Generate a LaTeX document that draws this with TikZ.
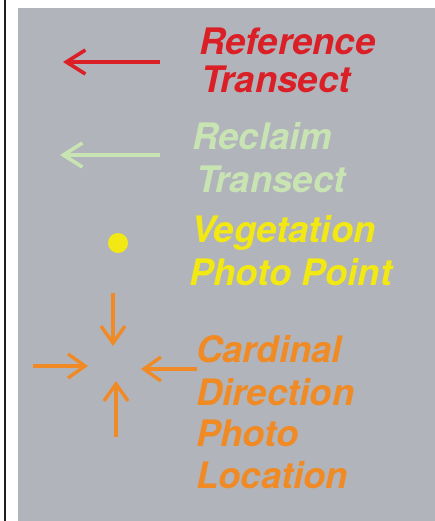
\documentclass[tikz,border=0pt]{standalone}
\usepackage{fontspec}
\setmainfont{TeX Gyre Heros}
\usetikzlibrary{arrows.meta}
\definecolor{bggray}{RGB}{178,180,187}
\definecolor{refred}{RGB}{218,32,38}
\definecolor{recgreen}{RGB}{200,228,178}
\definecolor{vegyellow}{RGB}{242,232,20}
\definecolor{cardorange}{RGB}{240,138,36}
\tikzset{
  lbl/.style={inner sep=0pt, anchor=base west, font=\fontsize{36.5}{42}\selectfont\bfseries\itshape},
  legarrow/.style={line width=3.6pt, -{Straight Barb[length=19pt,width=24pt]}},
  smallarrow/.style={line width=3.4pt, -{Straight Barb[length=17pt,width=24pt]}}
}
\begin{document}
\begin{tikzpicture}[x=1pt,y=-1pt]
\useasboundingbox (0,0) rectangle (435,521);
\fill[white] (0,0) rectangle (435,521);
\fill[black!88] (3.5,0) rectangle (6.2,521);
\fill[bggray] (18,8) rectangle (435,521);
% Reference transect
\coordinate (r1) at (160,62);
\coordinate (r2) at (63,62);
\draw[legarrow, refred] (r1) -- (r2);
\node[lbl, text=refred] (ref1) at (199,55) {Reference};
\node[lbl, text=refred] (ref2) at (201,93) {Transect};
% Reclaim transect
\coordinate (g1) at (160,155);
\coordinate (g2) at (60,155);
\draw[legarrow, recgreen] (g1) -- (g2);
\node[lbl, text=recgreen] (rec1) at (192,150) {Reclaim};
\node[lbl, text=recgreen] (rec2) at (196,193) {Transect};
% Vegetation photo point
\node[circle, fill=vegyellow, minimum size=20pt, inner sep=0pt] (dot) at (118,243) {};
\node[lbl, text=vegyellow] (veg1) at (191,242) {Vegetation};
\node[lbl, text=vegyellow] (veg2) at (189,285) {Photo Point};
% Cardinal direction photo location
\coordinate (d1) at (113,293);
\coordinate (d2) at (113,346);
\coordinate (e1) at (33,366);
\coordinate (e2) at (88,366);
\coordinate (w1) at (197,369);
\coordinate (w2) at (141,369);
\coordinate (u1) at (116,437);
\coordinate (u2) at (116,381);
\draw[smallarrow, cardorange] (d1) -- (d2);
\draw[smallarrow, cardorange] (e1) -- (e2);
\draw[smallarrow, cardorange] (w1) -- (w2);
\draw[smallarrow, cardorange] (u1) -- (u2);
\node[lbl, text=cardorange] (car1) at (196,362) {Cardinal};
\node[lbl, text=cardorange] (car2) at (196,405) {Direction};
\node[lbl, text=cardorange] (car3) at (196,446) {Photo};
\node[lbl, text=cardorange] (car4) at (196,488) {Location};
\end{tikzpicture}
\end{document}
